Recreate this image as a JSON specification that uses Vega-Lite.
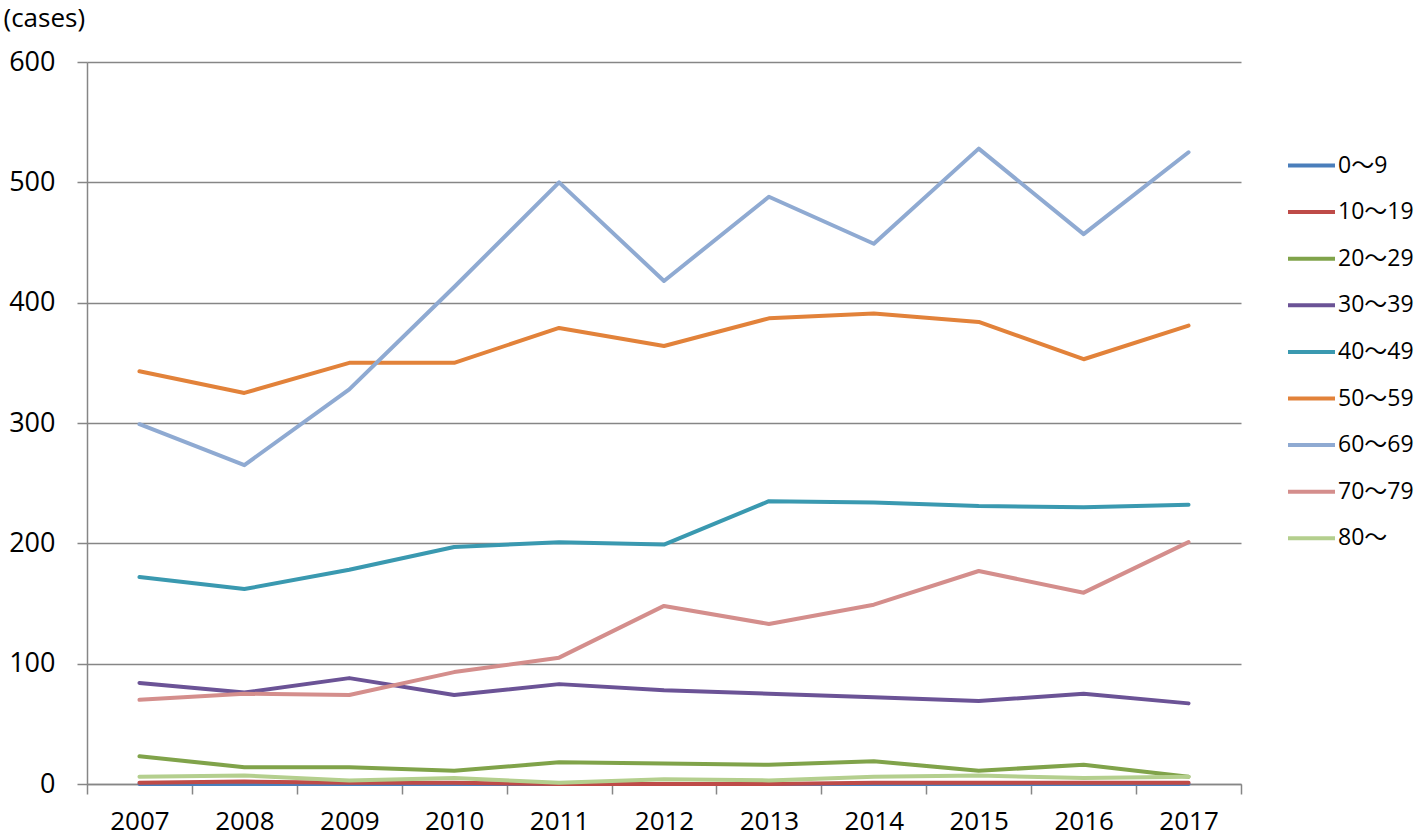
{
  "$schema": "https://vega.github.io/schema/vega-lite/v6.json",
  "width": 1154,
  "height": 722,
  "autosize": {"type": "none"},
  "padding": {"left": 87, "top": 62, "right": 177, "bottom": 52},
  "background": "white",
  "config": {"view": {"stroke": null}, "font": "Open Sans"},
  "data": {"values": [
    {"year": "2007", "age": "0～9", "cases": 0}, {"year": "2008", "age": "0～9", "cases": 0}, {"year": "2009", "age": "0～9", "cases": 0}, {"year": "2010", "age": "0～9", "cases": 0}, {"year": "2011", "age": "0～9", "cases": 0}, {"year": "2012", "age": "0～9", "cases": 0}, {"year": "2013", "age": "0～9", "cases": 0}, {"year": "2014", "age": "0～9", "cases": 0}, {"year": "2015", "age": "0～9", "cases": 0}, {"year": "2016", "age": "0～9", "cases": 0}, {"year": "2017", "age": "0～9", "cases": 0},
    {"year": "2007", "age": "10～19", "cases": 1}, {"year": "2008", "age": "10～19", "cases": 2}, {"year": "2009", "age": "10～19", "cases": 1}, {"year": "2010", "age": "10～19", "cases": 1}, {"year": "2011", "age": "10～19", "cases": 0}, {"year": "2012", "age": "10～19", "cases": 0}, {"year": "2013", "age": "10～19", "cases": 0}, {"year": "2014", "age": "10～19", "cases": 1}, {"year": "2015", "age": "10～19", "cases": 1}, {"year": "2016", "age": "10～19", "cases": 1}, {"year": "2017", "age": "10～19", "cases": 1},
    {"year": "2007", "age": "20～29", "cases": 23}, {"year": "2008", "age": "20～29", "cases": 14}, {"year": "2009", "age": "20～29", "cases": 14}, {"year": "2010", "age": "20～29", "cases": 11}, {"year": "2011", "age": "20～29", "cases": 18}, {"year": "2012", "age": "20～29", "cases": 17}, {"year": "2013", "age": "20～29", "cases": 16}, {"year": "2014", "age": "20～29", "cases": 19}, {"year": "2015", "age": "20～29", "cases": 11}, {"year": "2016", "age": "20～29", "cases": 16}, {"year": "2017", "age": "20～29", "cases": 6},
    {"year": "2007", "age": "30～39", "cases": 84}, {"year": "2008", "age": "30～39", "cases": 76}, {"year": "2009", "age": "30～39", "cases": 88}, {"year": "2010", "age": "30～39", "cases": 74}, {"year": "2011", "age": "30～39", "cases": 83}, {"year": "2012", "age": "30～39", "cases": 78}, {"year": "2013", "age": "30～39", "cases": 75}, {"year": "2014", "age": "30～39", "cases": 72}, {"year": "2015", "age": "30～39", "cases": 69}, {"year": "2016", "age": "30～39", "cases": 75}, {"year": "2017", "age": "30～39", "cases": 67},
    {"year": "2007", "age": "40～49", "cases": 172}, {"year": "2008", "age": "40～49", "cases": 162}, {"year": "2009", "age": "40～49", "cases": 178}, {"year": "2010", "age": "40～49", "cases": 197}, {"year": "2011", "age": "40～49", "cases": 201}, {"year": "2012", "age": "40～49", "cases": 199}, {"year": "2013", "age": "40～49", "cases": 235}, {"year": "2014", "age": "40～49", "cases": 234}, {"year": "2015", "age": "40～49", "cases": 231}, {"year": "2016", "age": "40～49", "cases": 230}, {"year": "2017", "age": "40～49", "cases": 232},
    {"year": "2007", "age": "50～59", "cases": 343}, {"year": "2008", "age": "50～59", "cases": 325}, {"year": "2009", "age": "50～59", "cases": 350}, {"year": "2010", "age": "50～59", "cases": 350}, {"year": "2011", "age": "50～59", "cases": 379}, {"year": "2012", "age": "50～59", "cases": 364}, {"year": "2013", "age": "50～59", "cases": 387}, {"year": "2014", "age": "50～59", "cases": 391}, {"year": "2015", "age": "50～59", "cases": 384}, {"year": "2016", "age": "50～59", "cases": 353}, {"year": "2017", "age": "50～59", "cases": 381},
    {"year": "2007", "age": "60～69", "cases": 299}, {"year": "2008", "age": "60～69", "cases": 265}, {"year": "2009", "age": "60～69", "cases": 328}, {"year": "2010", "age": "60～69", "cases": 413}, {"year": "2011", "age": "60～69", "cases": 500}, {"year": "2012", "age": "60～69", "cases": 418}, {"year": "2013", "age": "60～69", "cases": 488}, {"year": "2014", "age": "60～69", "cases": 449}, {"year": "2015", "age": "60～69", "cases": 528}, {"year": "2016", "age": "60～69", "cases": 457}, {"year": "2017", "age": "60～69", "cases": 525},
    {"year": "2007", "age": "70～79", "cases": 70}, {"year": "2008", "age": "70～79", "cases": 75}, {"year": "2009", "age": "70～79", "cases": 74}, {"year": "2010", "age": "70～79", "cases": 93}, {"year": "2011", "age": "70～79", "cases": 105}, {"year": "2012", "age": "70～79", "cases": 148}, {"year": "2013", "age": "70～79", "cases": 133}, {"year": "2014", "age": "70～79", "cases": 149}, {"year": "2015", "age": "70～79", "cases": 177}, {"year": "2016", "age": "70～79", "cases": 159}, {"year": "2017", "age": "70～79", "cases": 201},
    {"year": "2007", "age": "80～", "cases": 6}, {"year": "2008", "age": "80～", "cases": 7}, {"year": "2009", "age": "80～", "cases": 3}, {"year": "2010", "age": "80～", "cases": 5}, {"year": "2011", "age": "80～", "cases": 1}, {"year": "2012", "age": "80～", "cases": 4}, {"year": "2013", "age": "80～", "cases": 3}, {"year": "2014", "age": "80～", "cases": 6}, {"year": "2015", "age": "80～", "cases": 7}, {"year": "2016", "age": "80～", "cases": 5}, {"year": "2017", "age": "80～", "cases": 6}
  ]},
  "mark": {"type": "line", "strokeWidth": 4, "strokeCap": "round", "strokeJoin": "round"},
  "encoding": {
    "x": {
      "field": "year", "type": "ordinal", "bandPosition": 0.5,
      "scale": {"type": "band", "paddingInner": 0, "paddingOuter": 0},
      "axis": {"title": null, "labelAngle": 0, "tickBand": "extent", "grid": false,
        "domainColor": "#868686", "domainWidth": 1.5, "tickColor": "#868686", "tickWidth": 1.5, "tickSize": 10,
        "labelFontSize": 26, "labelColor": "#000000", "labelPadding": 14, "labelFont": "Open Sans"}
    },
    "y": {
      "field": "cases", "type": "quantitative", "scale": {"domain": [0, 600]},
      "axis": {"values": [0, 100, 200, 300, 400, 500, 600], "title": "(cases)", "titleAngle": 0, "titleAlign": "left", "titleBaseline": "top",
        "titleX": -84, "titleY": -57, "titleFontSize": 26, "titleFontWeight": "normal", "titleFont": "Open Sans", "titleColor": "#000000",
        "labelFontSize": 27, "labelColor": "#000000", "labelPadding": 22, "labelFont": "Open Sans",
        "tickSize": 10, "tickColor": "#868686", "tickWidth": 1.5,
        "domainColor": "#868686", "domainWidth": 1.5, "gridColor": "#868686", "gridWidth": 1.5}
    },
    "color": {
      "field": "age", "type": "nominal",
      "scale": {
        "domain": ["0～9", "10～19", "20～29", "30～39", "40～49", "50～59", "60～69", "70～79", "80～"],
        "range": ["#4A7EBB", "#BE4B48", "#80A34A", "#6B5396", "#3A99B0", "#E2823A", "#8FAAD2", "#D48E8C", "#B4CF8E"]
      },
      "legend": {
        "title": null, "orient": "none", "legendX": 1199, "legendY": 78, "padding": 0,
        "symbolType": "stroke", "symbolSize": 2209, "symbolStrokeWidth": 4, "rowPadding": 8.6,
        "labelFontSize": 23, "labelFont": "Open Sans, Noto Sans CJK JP", "labelColor": "#000000", "labelOffset": 1
      }
    }
  }
}
